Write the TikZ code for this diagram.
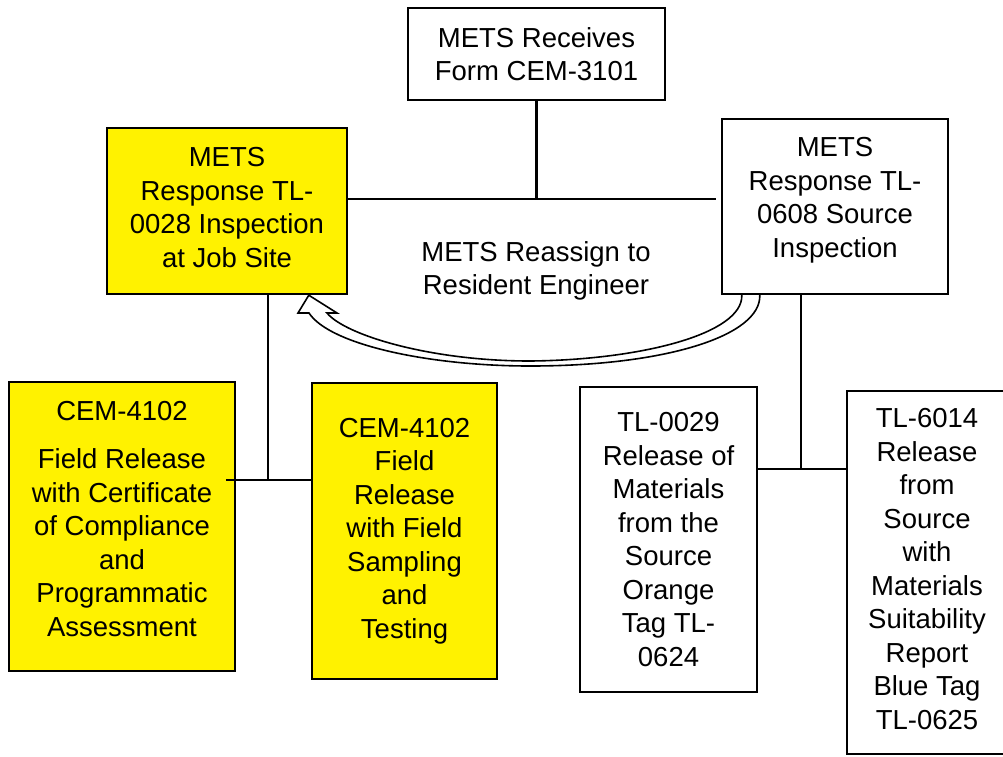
\documentclass[tikz,border=0pt]{standalone}
\usepackage{fontspec}
\setmainfont{Liberation Sans}
\usetikzlibrary{calc}
\newcommand\boxfont{\fontsize{27.5}{33.5}\selectfont}
\newcommand\dstrut[1]{\rule[-#1]{0pt}{#1}}
\begin{document}
\begin{tikzpicture}[x=1pt,y=-1pt,
  box/.style={draw, line width=2.4pt, align=center, font=\boxfont, inner sep=0pt},
  ybox/.style={box, fill=yellow},
  link/.style={line width=2.4pt},
  hollow/.style={fill=white, draw, line width=1.6pt, line join=miter},
  lbl/.style={align=center, font=\boxfont, inner sep=0pt}]
\path[use as bounding box, clip] (0,0) rectangle (1003,756);
\fill[white] (0,0) rectangle (1003,756);

% boxes
\node[box, minimum width=257pt, minimum height=92pt] (top) at (536.5,54) {METS Receives\\Form CEM-3101};
\node[ybox, minimum width=240pt, minimum height=166pt] (L) at (227,211) {METS\\Response TL-\\0028 Inspection\\at Job Site\dstrut{7pt}};
\node[box, minimum width=226pt, minimum height=175pt] (R) at (835,206.5) {METS\\Response TL-\\0608 Source\\Inspection\dstrut{18pt}};
\node[ybox, minimum width=226pt, minimum height=289pt] (C1) at (122,526.5) {CEM-4102\\[15pt]Field Release\\with Certificate\\of Compliance\\and\\Programmatic\\Assessment\dstrut{16pt}};
\node[ybox, minimum width=185pt, minimum height=296pt] (C2) at (404.5,531) {CEM-4102\\Field\\Release\\with Field\\Sampling\\and\\Testing};
\node[box, minimum width=177pt, minimum height=305pt] (T1) at (668.5,539.5) {TL-0029\\Release of\\Materials\\from the\\Source\\Orange\\Tag TL-\\0624};
\node[box, minimum width=160pt, minimum height=363pt] (T2) at (927,572.5) {TL-6014\\Release\\from\\Source\\with\\Materials\\Suitability\\Report\\Blue Tag\\TL-0625\dstrut{7pt}};

\node[lbl] (re) at (536,271) {METS Reassign to\\Resident Engineer};

% connectors
\coordinate (j1) at (top.south |- 0,199);
\coordinate (rend) at (716,199);
\draw[link] (top.south) -- (j1);
\draw[link] (L.east |- j1) -- (rend);

\coordinate (j2) at (268,480);
\draw[link] (L.south -| j2) -- (j2);
\draw[link] ($(C1.east |- j2)+(-10,0)$) -- (C2.west |- j2);

\coordinate (j3) at (801,469);
\draw[link] (R.south -| j3) -- (j3);
\draw[link] (T1.east |- j3) -- (T2.west |- j3);

% curved hollow arrow from R back to L
\coordinate (ai) at ($(R.south west)+(21,0)$);
\coordinate (ao) at ($(R.south west)+(39,0)$);
\coordinate (tip) at ($(L.south west)+(203,0)$);
\draw[hollow] (ai) .. controls (743,334) and (640,360) .. (530,361)
  .. controls (430,361) and (345,335) .. (327,313)
  -- (337,313) -- (tip) -- (298,313) -- (309,313)
  .. controls (330,345) and (430,366) .. (530,366)
  .. controls (665,366) and (761,336) .. (ao);
\end{tikzpicture}
\end{document}
